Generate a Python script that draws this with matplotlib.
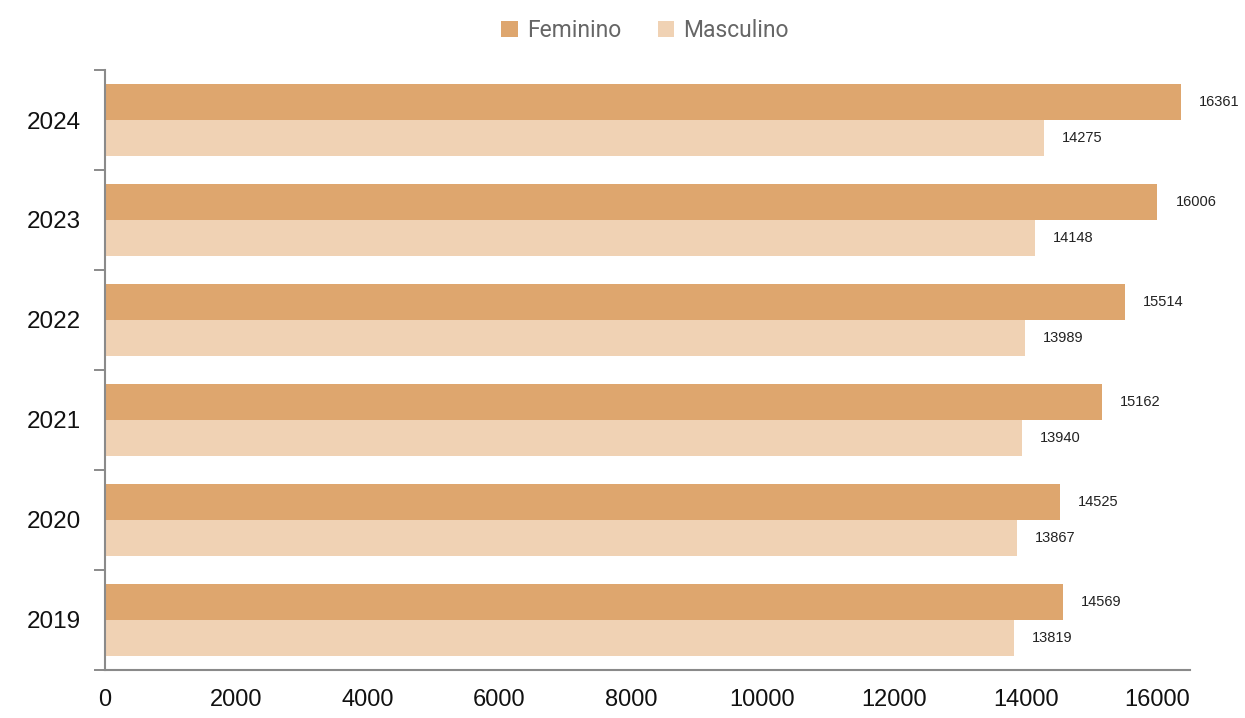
import matplotlib
matplotlib.use("Agg")
import matplotlib.pyplot as plt
import numpy as np

# Registos por sexo, 2019-2024
anos = ["2019", "2020", "2021", "2022", "2023", "2024"]
feminino = [14569, 14525, 15162, 15514, 16006, 16361]
masculino = [13819, 13867, 13940, 13989, 14148, 14275]

cor_fem = "#DEA66E"
cor_masc = "#F0D2B4"

fig = plt.figure(figsize=(12.45, 7.18), dpi=100)
ax = fig.add_axes([0.0843, 0.0669, 0.8715, 0.8356])

y = np.arange(len(anos))
h = 0.36
b_f = ax.barh(y + h / 2, feminino, height=h, color=cor_fem, label="Feminino")
b_m = ax.barh(y - h / 2, masculino, height=h, color=cor_masc, label="Masculino")

for bars in (b_f, b_m):
    ax.bar_label(bars, labels=[str(v) for v in bars.datavalues], padding=13,
                 fontsize=10.5, color="#222222", family="Liberation Sans")

ax.set_xlim(0, 16500)
ax.set_ylim(-0.5, len(anos) - 0.5)
ax.set_xticks(np.arange(0, 16001, 2000))
ax.set_yticks(y)
ax.set_yticklabels(anos)
ax.set_yticks(np.arange(-0.5, len(anos), 1), minor=True)

ax.tick_params(axis="x", length=0, pad=14, labelsize=17, labelcolor="#111111")
ax.tick_params(axis="y", which="major", length=0, pad=17, labelsize=17.5, labelcolor="#111111")
ax.tick_params(axis="y", which="minor", length=8, width=1.2, color="#777777")
for lab in ax.get_xticklabels() + ax.get_yticklabels():
    lab.set_family("Liberation Sans")

for side in ("top", "right"):
    ax.spines[side].set_visible(False)
for side in ("left", "bottom"):
    ax.spines[side].set_color("#8a8a8a")
    ax.spines[side].set_linewidth(1.5)

fig.legend(handles=[b_f, b_m], loc="center", bbox_to_anchor=(0.518, 0.957), ncol=2,
           frameon=False, prop={"family": "Roboto", "size": 16.5}, labelcolor="#666666",
           handlelength=0.7, handleheight=0.7, handletextpad=0.4, columnspacing=1.6)

fig.savefig("out.png", dpi=100)
